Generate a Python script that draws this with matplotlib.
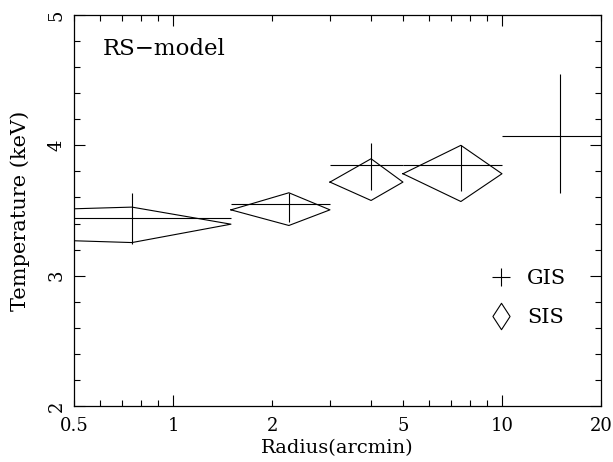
import numpy as np
import matplotlib
matplotlib.use("Agg")
import matplotlib.pyplot as plt
from matplotlib.ticker import FixedLocator, FuncFormatter, MultipleLocator
from matplotlib.lines import Line2D
from matplotlib.path import Path

# GIS: radial bins (arcmin) and temperatures (keV)
gis_r = [0.75, 2.25, 4.0, 7.5, 15.0]
gis_r_lo = [0.012, 1.5, 3.0, 5.0, 10.0]
gis_r_hi = [1.5, 3.0, 5.0, 10.0, 20.0]
gis_t = [3.44, 3.55, 3.85, 3.85, 4.07]
gis_t_lo = [3.24, 3.415, 3.66, 3.646, 3.636]
gis_t_hi = [3.636, 3.636, 4.018, 4.0, 4.551]

# SIS
sis_r = [0.75, 2.25, 4.0, 7.5]
sis_r_lo = [0.012, 1.5, 3.0, 5.0]
sis_r_hi = [1.5, 3.0, 5.0, 10.0]
sis_t = [3.395, 3.505, 3.718, 3.782]
sis_t_lo = [3.254, 3.385, 3.577, 3.569]
sis_t_hi = [3.526, 3.636, 3.897, 4.0]

x_labels = [0.5, 2, 5, 20]

plt.rcParams['font.family'] = ['DejaVu Serif']

fig = plt.figure(figsize=(6.13, 4.62), dpi=100)
ax = fig.add_axes([74 / 613, 56 / 462, 527 / 613, 391 / 462])

# GIS crosses
r = np.array(gis_r)
t = np.array(gis_t)
xerr = [r - np.array(gis_r_lo), np.array(gis_r_hi) - r]
yerr = [t - np.array(gis_t_lo), np.array(gis_t_hi) - t]
ax.errorbar(r, t, xerr=xerr, yerr=yerr, fmt='none', ecolor='black',
            elinewidth=0.8, capsize=0)

# SIS diamonds
for xc, xl, xh, yc, yl, yh in zip(sis_r, sis_r_lo, sis_r_hi, sis_t, sis_t_lo, sis_t_hi):
    ax.plot([xl, xc, xh, xc, xl], [yc, yh, yc, yl, yc], color='black', lw=0.8)

ax.set_xscale('log')
ax.set_xlim(0.5, 20)
ax.set_ylim(2, 5)

# x ticks: long at decades, short elsewhere
ax.xaxis.set_major_locator(FixedLocator([1, 10]))
ax.xaxis.set_major_formatter(FuncFormatter(lambda v, p: f"{v:g}"))
minor = [0.5, 0.6, 0.7, 0.8, 0.9] + list(range(2, 10)) + [20]
ax.xaxis.set_minor_locator(FixedLocator(minor))
ax.xaxis.set_minor_formatter(FuncFormatter(lambda v, p: f"{v:g}" if v in x_labels else ""))

ax.yaxis.set_major_locator(FixedLocator([2, 3, 4, 5]))
ax.yaxis.set_minor_locator(MultipleLocator(0.2))

ax.tick_params(which='both', direction='in', top=True, right=True, width=0.8,
               labelsize=13, colors='black')
ax.tick_params(which='major', length=8)
ax.tick_params(which='minor', length=4)
ax.tick_params(axis='x', which='both', pad=8)
ax.tick_params(axis='y', which='major', pad=6)
for lab in ax.get_yticklabels():
    lab.set_rotation(90)
    lab.set_va('center')

for s in ax.spines.values():
    s.set_linewidth(0.9)

ax.set_xlabel("Radius(arcmin)", fontsize=14)
ax.set_ylabel("Temperature (keV)", fontsize=15)
ax.yaxis.set_label_coords(-0.084, 0.5)
ax.xaxis.set_label_coords(0.5, -0.085)

ax.text(0.055, 0.914, "RS\u2212model", transform=ax.transAxes, fontsize=16.5,
        va='center', ha='left')

diamond = Path([(0, 1), (0.65, 0), (0, -1), (-0.65, 0), (0, 1)],
               [Path.MOVETO, Path.LINETO, Path.LINETO, Path.LINETO, Path.CLOSEPOLY])
handles = [
    Line2D([], [], ls='none', marker='+', color='black', markersize=13, markeredgewidth=0.8),
    Line2D([], [], ls='none', marker=diamond, color='black', markerfacecolor='none',
           markersize=19, markeredgewidth=0.8),
]
ax.legend(handles, ["GIS", "SIS"], loc='upper left', bbox_to_anchor=(0.79, 0.35),
          frameon=False, fontsize=15, handlelength=1.0, handletextpad=0.75,
          labelspacing=0.95, borderpad=0, borderaxespad=0)

fig.savefig("out.png", dpi=100)
